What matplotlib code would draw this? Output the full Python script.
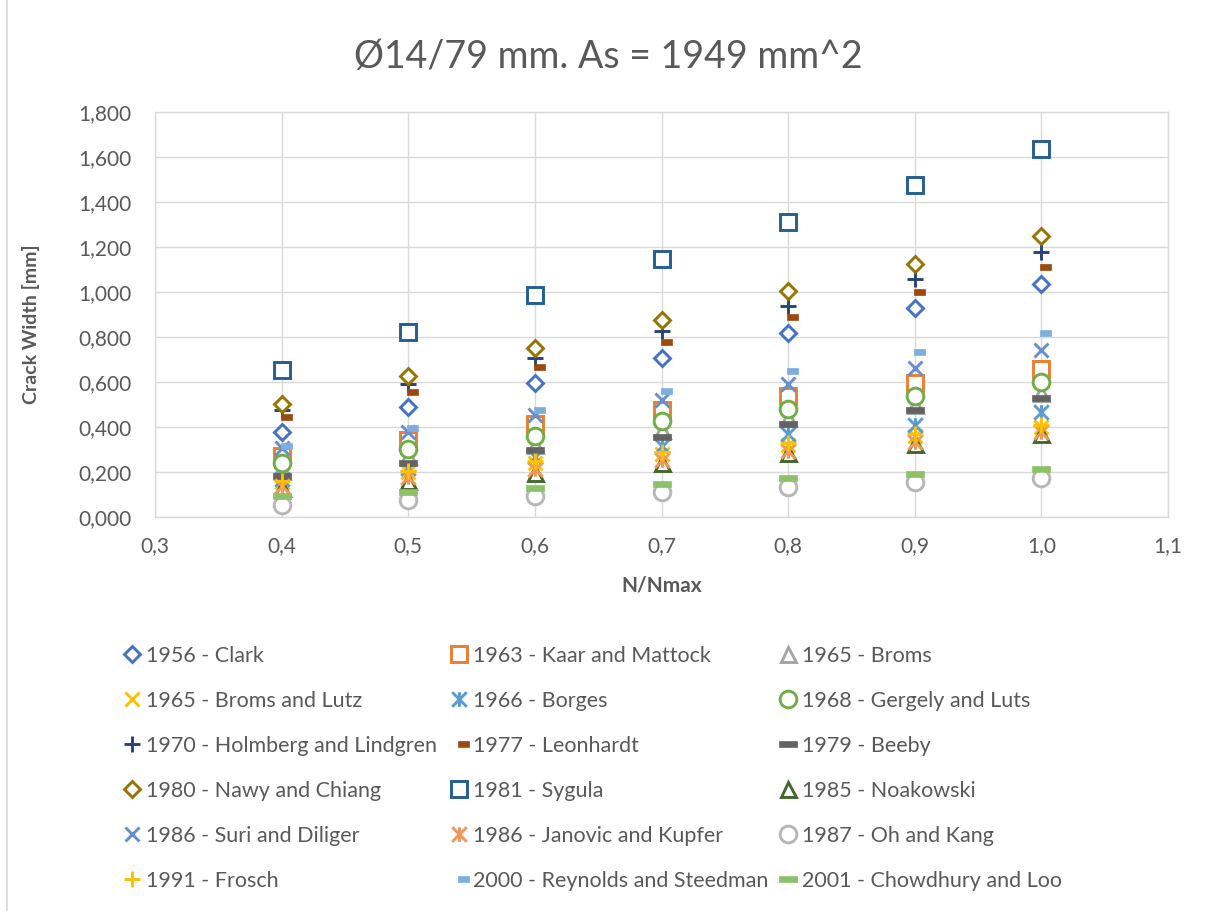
import matplotlib
matplotlib.use('Agg')
import matplotlib.pyplot as plt
from matplotlib.path import Path
from matplotlib.ticker import FuncFormatter, MultipleLocator
from matplotlib.patches import Rectangle

plt.rcParams['font.family'] = ['Lato', 'DejaVu Sans']

W, H = 1209, 911
GREY = '#595959'

# Data
load_ratio = [0.4, 0.5, 0.6, 0.7, 0.8, 0.9, 1.0]

clark = [0.376, 0.487, 0.596, 0.707, 0.818, 0.929, 1.037]
kaar_mattock = [0.273, 0.344, 0.415, 0.477, 0.536, 0.596, 0.658]
broms = [0.203, 0.270, 0.320, 0.388, 0.440, 0.499, 0.551]
broms_lutz = [0.155, 0.200, 0.240, 0.280, 0.322, 0.362, 0.402]
borges = [0.170, 0.218, 0.265, 0.315, 0.370, 0.410, 0.465]
gergely_luts = [0.240, 0.302, 0.361, 0.428, 0.480, 0.539, 0.600]
holmberg_lindgren = [0.474, 0.591, 0.705, 0.825, 0.939, 1.059, 1.176]
leonhardt = [0.443, 0.557, 0.667, 0.778, 0.889, 0.999, 1.111]
beeby = [0.184, 0.240, 0.296, 0.356, 0.415, 0.474, 0.529]
nawy_chiang = [0.504, 0.625, 0.753, 0.877, 1.003, 1.124, 1.250]
sygula = [0.655, 0.822, 0.988, 1.147, 1.310, 1.477, 1.637]
noakowski = [0.130, 0.159, 0.196, 0.240, 0.285, 0.325, 0.368]
suri_diliger = [0.307, 0.377, 0.455, 0.521, 0.593, 0.662, 0.741]
janovic_kupfer = [0.140, 0.178, 0.215, 0.255, 0.295, 0.335, 0.376]
oh_kang = [0.052, 0.077, 0.092, 0.110, 0.133, 0.154, 0.173]
frosch = [0.160, 0.205, 0.247, 0.287, 0.329, 0.368, 0.410]
reynolds_steedman = [0.317, 0.396, 0.477, 0.561, 0.647, 0.732, 0.818]
chowdhury_loo = [0.092, 0.110, 0.129, 0.148, 0.173, 0.193, 0.213]

labels = ['1956 - Clark', '1963 - Kaar and Mattock', '1965 - Broms',
          '1965 - Broms and Lutz', '1966 - Borges', '1968 - Gergely and Luts',
          '1970 - Holmberg and Lindgren', '1977 - Leonhardt', '1979 - Beeby',
          '1980 - Nawy and Chiang', '1981 - Sygula', '1985 - Noakowski',
          '1986 - Suri and Diliger', '1986 - Janovic and Kupfer', '1987 - Oh and Kang',
          '1991 - Frosch', '2000 - Reynolds and Steedman', '2001 - Chowdhury and Loo']

series = [clark, kaar_mattock, broms, broms_lutz, borges, gergely_luts,
          holmberg_lindgren, leonhardt, beeby, nawy_chiang, sygula, noakowski,
          suri_diliger, janovic_kupfer, oh_kang, frosch, reynolds_steedman, chowdhury_loo]

# custom Excel-like markers
star = Path([(-1, -1), (1, 1), (-1, 1), (1, -1), (0, -1), (0, 1)],
            [Path.MOVETO, Path.LINETO, Path.MOVETO, Path.LINETO, Path.MOVETO, Path.LINETO])
short_dash = Path([(-0.1, -0.27), (1, -0.27), (1, 0.27), (-0.1, 0.27), (-0.1, -0.27)], closed=True)
long_dash = Path([(-1, -0.3), (1, -0.3), (1, 0.3), (-1, 0.3), (-1, -0.3)], closed=True)

# (marker, colour, size, kind)
styles = [
    ('D', '#4472C4', 8.0, 'open'),
    ('s', '#ED7D31', 11.8, 'open'),
    ('^', '#A5A5A5', 10.8, 'open'),
    ('x', '#FFC000', 10.5, 'line'),
    (star, '#5B9BD5', 10.5, 'line'),
    ('o', '#70AD47', 12, 'open'),
    ('+', '#264478', 11.5, 'line'),
    (short_dash, '#9E480E', 13.7, 'solid'),
    (long_dash, '#636363', 12.8, 'solid'),
    ('D', '#997300', 8.0, 'open'),
    ('s', '#255E91', 11.8, 'open'),
    ('^', '#43682B', 10.8, 'open'),
    ('x', '#698ED0', 10.5, 'line'),
    (star, '#F1975A', 10.5, 'line'),
    ('o', '#B7B7B7', 12, 'open'),
    ('+', '#FFC000', 11.5, 'line'),
    (short_dash, '#7CAFDD', 13.7, 'solid'),
    (long_dash, '#8CC168', 12.8, 'solid'),
]

fig = plt.figure(figsize=(W / 100, H / 100), dpi=100)
fig.patches.append(Rectangle((7 / W, -0.01), 1.0, 1.02, transform=fig.transFigure,
                             fill=False, edgecolor='#d9d9d9', lw=1.2))

ax = fig.add_axes([155 / W, (H - 517) / H, 1013 / W, 405 / H])

handles = []
for vals, (mk, col, ms, kind) in zip(series, styles):
    if kind == 'open':
        h, = ax.plot(load_ratio, vals, ls='none', marker=mk, ms=ms, mfc='white',
                     mec=col, mew=2.1)
    elif kind == 'line':
        h, = ax.plot(load_ratio, vals, ls='none', marker=mk, ms=ms, mfc='none',
                     mec=col, mew=2.1)
    else:
        h, = ax.plot(load_ratio, vals, ls='none', marker=mk, ms=ms, mfc=col,
                     mec=col, mew=0.5)
    handles.append(h)

ax.set_xlim(0.3, 1.1)
ax.set_ylim(0, 1.8)
ax.xaxis.set_major_locator(MultipleLocator(0.1))
ax.yaxis.set_major_locator(MultipleLocator(0.2))
ax.xaxis.set_major_formatter(FuncFormatter(lambda v, p: f'{v:.1f}'.replace('.', ',')))
ax.yaxis.set_major_formatter(FuncFormatter(lambda v, p: f'{v:.3f}'.replace('.', ',')))
ax.grid(True, color='#d9d9d9', lw=1.0)
ax.set_axisbelow(True)
for s in ax.spines.values():
    s.set_color('#d9d9d9')
    s.set_linewidth(1.0)
ax.tick_params(axis='both', length=0, labelsize=15, labelcolor=GREY)
ax.tick_params(axis='y', pad=17)
ax.tick_params(axis='x', pad=14)

ax.set_xlabel('N/Nmax', fontsize=15, fontweight='bold', color=GREY, va='center')
ax.xaxis.set_label_coords(0.5, (517 - 586) / 405)
ax.set_ylabel('Crack Width [mm]', fontsize=14, fontweight='bold', color=GREY, va='center')
ax.yaxis.set_label_coords((31 - 155) / 1013, (517 - 324) / 405)

fig.text(608 / W, 1 - 57 / H, 'Ø14/79 mm. As = 1949 mm^2', ha='center', va='center',
         fontsize=27, color=GREY)

# legend: three columns, filled row by row like Excel
for left, start in [(121, 0), (448, 1), (777, 2)]:
    idx = list(range(start, 18, 3))
    fig.legend([handles[i] for i in idx], [labels[i] for i in idx], loc='upper left',
               bbox_to_anchor=(left / W, 1 - 646 / H), frameon=False, borderpad=0,
               borderaxespad=0, handlelength=1.0, handletextpad=0.15, labelspacing=1.16,
               fontsize=15.5, labelcolor=GREY, numpoints=1)

fig.savefig('out.png', dpi=100)
